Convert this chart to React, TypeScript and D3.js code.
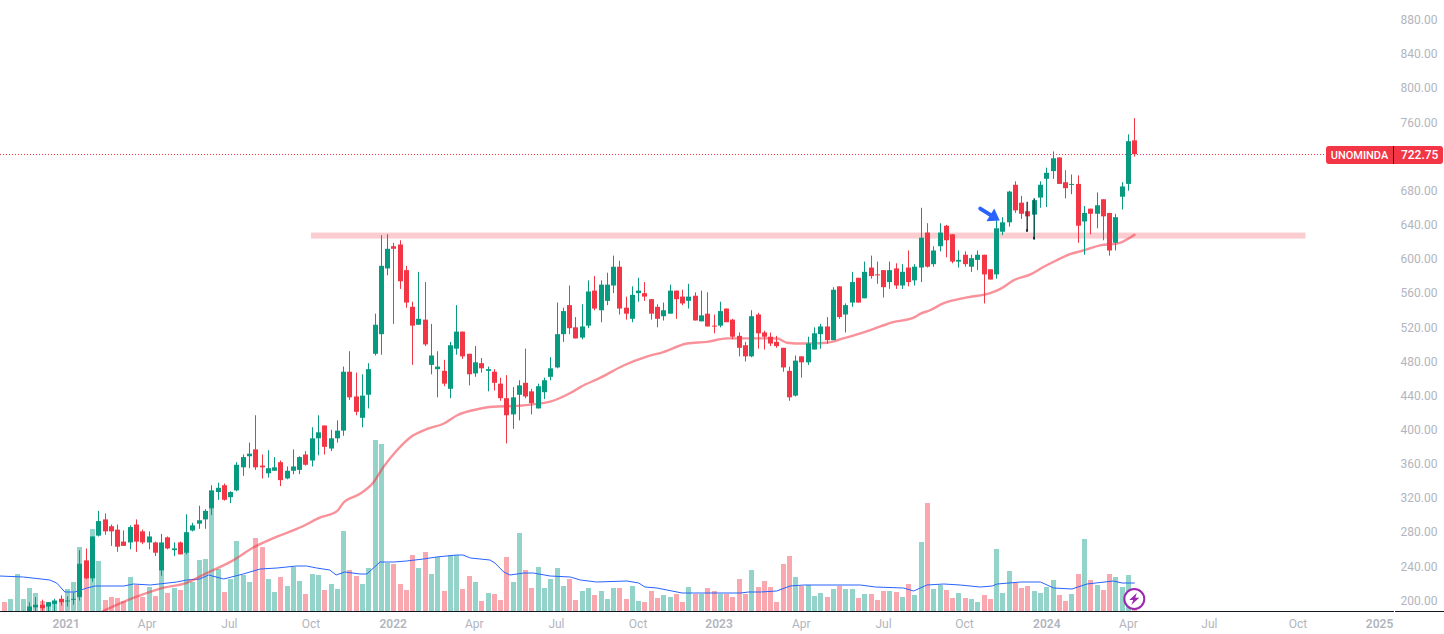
import React from 'react'
import * as d3 from 'd3'

// weekly bars
const opens = [
  180, 176, 176, 178, 187, 192, 195, 193, 196, 202,
  199, 201, 204, 247, 226, 276, 295, 287, 283, 269,
  268, 289, 281, 268, 268, 235, 274, 259, 268, 256,
  282, 290, 295, 308, 327, 335, 321, 329, 356, 369,
  377, 358, 349, 352, 362, 343, 352, 353, 371, 364,
  390, 405, 378, 390, 399, 468, 439, 414, 441, 489,
  512, 589, 615, 617, 587, 544, 523, 529, 476, 471,
  469, 448, 495, 515, 489, 466, 478, 469, 468, 454,
  437, 418, 441, 455, 445, 425, 444, 462, 473, 512,
  546, 520, 508, 522, 563, 540, 551, 569, 591, 543,
  530, 560, 560, 553, 544, 533, 536, 563, 556, 551,
  557, 527, 536, 522, 522, 542, 529, 510, 499, 486,
  535, 514, 509, 503, 496, 469, 440, 486, 479, 494,
  512, 521, 505, 568, 535, 549, 578, 554, 590, 582,
  587, 573, 589, 569, 590, 575, 590, 631, 594, 615,
  639, 629, 597, 605, 591, 599, 605, 588, 582, 632,
  643, 687, 666, 656, 652, 672, 694, 703, 719, 690,
  687, 688, 644, 659, 653, 670, 654, 619, 673, 688, 739,
]
const highs = [
  182, 180, 184, 188, 198, 204, 201, 198, 202, 206,
  205, 209, 259, 261, 275, 305, 302, 289, 289, 282,
  288, 295, 283, 281, 269, 278, 275, 268, 269, 301,
  291, 311, 307, 335, 338, 337, 328, 362, 371, 385,
  417, 371, 376, 368, 364, 357, 377, 369, 375, 403,
  417, 405, 400, 411, 474, 492, 467, 465, 478, 536,
  628, 629, 619, 622, 592, 550, 585, 573, 524, 492,
  482, 503, 546, 515, 489, 498, 484, 474, 471, 461,
  464, 450, 458, 495, 448, 454, 461, 485, 549, 543,
  569, 532, 547, 575, 580, 575, 584, 604, 598, 556,
  568, 578, 573, 553, 547, 549, 570, 563, 564, 571,
  561, 563, 561, 535, 550, 542, 530, 514, 503, 540,
  537, 516, 514, 510, 496, 474, 487, 486, 509, 520,
  524, 532, 567, 568, 548, 585, 578, 597, 604, 597,
  587, 597, 595, 594, 610, 594, 660, 642, 615, 642,
  640, 629, 610, 609, 605, 610, 605, 588, 645, 649,
  680, 691, 674, 667, 671, 691, 707, 726, 719, 704,
  699, 698, 662, 659, 678, 670, 654, 653, 690, 746, 765,
]
const lows = [
  176, 174, 174, 176, 184, 188, 188, 187, 187, 194,
  193, 195, 200, 225, 222, 275, 277, 264, 257, 264,
  260, 257, 266, 260, 252, 229, 260, 252, 254, 254,
  281, 284, 284, 300, 318, 317, 314, 328, 346, 355,
  353, 343, 344, 352, 334, 342, 348, 348, 358, 357,
  370, 371, 375, 385, 393, 435, 417, 403, 425, 487,
  488, 581, 524, 565, 543, 476, 523, 498, 465, 438,
  451, 437, 488, 483, 452, 462, 467, 445, 446, 434,
  384, 401, 411, 437, 418, 425, 436, 458, 472, 503,
  512, 507, 506, 519, 540, 526, 546, 560, 535, 529,
  526, 550, 551, 529, 520, 528, 536, 530, 546, 542,
  528, 527, 521, 513, 520, 526, 506, 486, 480, 485,
  495, 494, 498, 496, 468, 434, 439, 461, 476, 494,
  495, 501, 505, 530, 514, 544, 549, 554, 577, 571,
  555, 565, 565, 565, 568, 569, 573, 590, 591, 609,
  602, 595, 590, 591, 585, 587, 548, 576, 577, 628,
  638, 654, 647, 633, 623, 660, 661, 694, 688, 671,
  676, 619, 605, 629, 636, 622, 604, 610, 658, 680, 720,
]
const closes = [
  178, 179, 182, 184, 193, 195, 191, 198, 200, 198,
  200, 202, 243, 226, 275, 293, 281, 281, 263, 264,
  286, 269, 268, 275, 256, 268, 261, 261, 254, 280,
  288, 294, 305, 329, 332, 318, 327, 359, 368, 372,
  356, 356, 355, 356, 341, 352, 357, 368, 359, 390,
  397, 380, 390, 399, 468, 438, 421, 440, 471, 523,
  592, 612, 612, 574, 549, 522, 530, 500, 487, 474,
  454, 499, 515, 486, 465, 479, 472, 471, 455, 437,
  417, 438, 452, 439, 431, 451, 458, 472, 512, 539,
  519, 507, 521, 562, 542, 570, 570, 591, 542, 536,
  558, 563, 556, 536, 530, 540, 563, 553, 548, 556,
  528, 534, 521, 521, 539, 526, 509, 496, 486, 533,
  513, 509, 501, 498, 473, 438, 481, 479, 501, 513,
  521, 505, 564, 532, 546, 573, 549, 585, 580, 581,
  567, 587, 569, 585, 573, 591, 625, 591, 610, 631,
  622, 597, 599, 594, 601, 605, 582, 576, 636, 643,
  679, 657, 653, 650, 669, 687, 701, 718, 688, 683,
  688, 639, 654, 653, 663, 650, 610, 649, 685, 738, 722.75,
]
const volumes = [
  9, 12, 37, 12, 23, 18, 10, 9, 10, 11,
  22, 29, 64, 41, 82, 50, 11, 14, 13, 10,
  34, 26, 14, 24, 15, 40, 18, 23, 21, 59,
  29, 51, 52, 103, 42, 19, 32, 70, 36, 29,
  73, 64, 32, 19, 34, 25, 44, 30, 17, 37,
  36, 21, 27, 22, 80, 41, 35, 27, 43, 171,
  167, 48, 47, 27, 21, 56, 43, 59, 37, 54,
  20, 56, 56, 22, 35, 29, 10, 18, 17, 11,
  54, 29, 78, 41, 23, 44, 23, 32, 43, 25,
  32, 11, 20, 23, 16, 20, 12, 23, 23, 12,
  25, 10, 9, 20, 13, 16, 14, 17, 9, 24,
  17, 17, 23, 20, 17, 17, 14, 32, 17, 41,
  24, 30, 24, 9, 47, 55, 34, 25, 26, 15,
  18, 14, 22, 25, 22, 22, 13, 17, 17, 11,
  20, 20, 19, 14, 27, 16, 69, 108, 22, 26,
  21, 13, 18, 13, 12, 9, 16, 12, 62, 18,
  40, 28, 23, 25, 20, 18, 24, 31, 16, 10,
  17, 37, 72, 31, 26, 21, 37, 34, 24, 36, 2,
]

// price moving average, bar position / level
const priceMaBars = [
  15.5, 20.5, 24.8, 29.1, 32.2, 36.4, 39.6, 42.8, 47.5, 50.2, 53, 53.9, 56.6, 58.7, 60.3, 62.5, 64.6, 67.3, 69.9,
  72.1, 75.3, 77.8, 81.6, 86.9, 90.1, 91.7, 94.9, 98.5, 102.4, 104.9, 108.7, 111.9, 115.1, 123, 124.6, 127.2, 131,
  133.6, 136.3, 139.5, 141.5, 144.7, 145.9, 147.4, 149.5, 153.3, 157, 158.6, 160.7, 163.4, 165.3, 167.4, 169.8,
  171.8, 174.5, 177.2, 180.1,
]
const priceMaValues = [
  187, 203, 214, 221, 232, 247, 262, 273, 287, 297, 305, 314, 325, 338, 356, 376, 391, 401, 407,
  417, 424, 427, 428, 433, 443, 450, 461, 475, 486, 491, 501, 503, 507, 507, 502, 501, 502,
  507, 513, 521, 526, 531, 536, 540, 548, 555, 560, 565, 575, 582, 590, 598, 606,
  610, 616, 618, 629,
]

// volume moving average, bar position / level (first point sits at the left edge of the pane)
const volumeMaBars = [
  -0.8, 3, 7.2, 8.3, 9.6, 11.2, 13.1, 14.4, 19, 20.5, 23.2, 27.4, 29, 31.1, 32.5, 34.9, 38, 40.7, 43.4, 46.5, 48.1,
  49.7, 51.8, 52.8, 54.2, 56.6, 57.7, 59.8, 62, 64, 66.7, 68.8, 72, 73, 74.2, 77.3, 78.1, 79.5, 80.5, 82.7, 84.2,
  86.9, 90.1, 91.7, 94.3, 99.1, 101, 102, 103.9, 107.9, 109.7, 117.2, 118.5, 120.4, 123, 125.1, 127.3, 132.6, 136.3,
  138.7, 143.2, 144.8, 146.9, 149.6, 152.2, 155.4, 157.3, 158.1, 161.8, 165, 167.1, 170, 172.4, 176.6, 178, 180,
]
const volumeMaValues = [
  35, 34, 31, 28, 19, 19, 23, 25, 25, 27, 26, 29, 31, 32, 36, 32, 37, 42, 43, 45, 45,
  43, 41, 36, 39, 37, 37, 49, 49, 50, 52, 54, 56, 56, 53, 51, 48, 39, 36, 38, 38,
  35, 34, 31, 29, 30, 28, 24, 23, 18, 18, 18, 19, 19, 20, 25, 26, 26, 26,
  24, 23, 20, 26, 27, 26, 24, 25, 27, 29, 29, 23, 22, 27, 30, 28, 28,
]

const priceTicks = [880, 840, 800, 760, 680, 640, 600, 560, 520, 480, 440, 400, 360, 320, 280, 240, 200]
const timeLabels = ['2021', 'Apr', 'Jul', 'Oct', '2022', 'Apr', 'Jul', 'Oct', '2023', 'Apr', 'Jul', 'Oct', '2024', 'Apr', 'Jul', 'Oct', '2025']
const timeLabelBars = [9.8, 22.7, 35.8, 48.8, 61.9, 74.8, 87.9, 100.9, 113.8, 126.9, 140, 152.9, 166, 179, 191.9, 206, 219]

const symbol = 'UNOMINDA'
const lastPrice = 722.75

const WIDTH = 1444
const HEIGHT = 634
const PLOT_RIGHT = 1394
const BASELINE = 611
const FONT = 'Roboto, sans-serif'

const RED = '#F23645'
const GREEN = '#089981'

const xScale = d3.scaleLinear().domain([0, 180]).range([4.6, 1134.7])
const yScale = d3.scaleLinear().domain([200, 880]).range([600.5, 20])
const volScale = d3.scaleLinear().domain([0, 171]).range([BASELINE, BASELINE - 171])

const snap = (i: number) => Math.floor(xScale(i))

const priceMaPath = d3.line<number>()
  .x((d, i) => xScale(priceMaBars[i]))
  .y(d => yScale(d))
  .curve(d3.curveMonotoneX)(priceMaValues)

const volumeMaPath = d3.line<number>()
  .x((d, i) => xScale(volumeMaBars[i]))
  .y(d => volScale(d))(volumeMaValues)

function Arrow() {
  // hand drawn arrow on the chart, tail and tip given in bar / price
  const x1 = xScale(155.4), y1 = yScale(659)
  const x2 = xScale(158.5), y2 = yScale(645)
  const a = Math.atan2(y2 - y1, x2 - x1)
  const head = 11
  const wing = 7.5
  const bx = x2 - head * Math.cos(a)
  const by = y2 - head * Math.sin(a)
  const nx = -Math.sin(a), ny = Math.cos(a)
  return (
    <g>
      <line x1={x1} y1={y1} x2={bx} y2={by} stroke="#2962FF" strokeWidth={4} strokeLinecap="round" />
      <polygon
        points={`${x2},${y2} ${bx + nx * wing},${by + ny * wing} ${bx - nx * wing},${by - ny * wing}`}
        fill="#2962FF"
      />
    </g>
  )
}

export default function App() {
  const lastY = Math.floor(yScale(lastPrice)) + 0.5
  return (
    <svg
      width={WIDTH}
      height={HEIGHT}
      style={{ position: 'absolute', left: 0, top: 0, background: '#fff', fontFamily: FONT }}
    >
      <defs>
        <clipPath id="plot">
          <rect x={0} y={0} width={PLOT_RIGHT} height={BASELINE} />
        </clipPath>
      </defs>

      <g clipPath="url(#plot)">
        {/* volume */}
        {volumes.map((v, i) => (
          <rect
            key={i}
            x={snap(i) - 2}
            y={volScale(v)}
            width={5}
            height={BASELINE - volScale(v)}
            fill={closes[i] < opens[i] ? RED : GREEN}
            opacity={0.43}
          />
        ))}
        <path d={volumeMaPath!} fill="none" stroke="#2962FF" strokeWidth={1} />

        {/* resistance band */}
        <rect
          x={xScale(48.8)}
          y={yScale(631)}
          width={xScale(207.2) - xScale(48.8)}
          height={yScale(624) - yScale(631)}
          fill={RED}
          opacity={0.25}
        />

        <path d={priceMaPath!} fill="none" stroke={RED} strokeOpacity={0.55} strokeWidth={2.4} />

        <line x1={0} x2={1326} y1={lastY} y2={lastY} stroke={RED} strokeWidth={1} strokeDasharray="1 2" />

        {/* candles */}
        {closes.map((c, i) => {
          const o = opens[i]
          const color = c < o ? RED : GREEN
          const top = yScale(Math.max(o, c))
          const bottom = yScale(Math.min(o, c))
          return (
            <g key={i} fill={color}>
              <rect x={snap(i)} y={yScale(highs[i])} width={1} height={yScale(lows[i]) - yScale(highs[i])} />
              <rect x={snap(i) - 2} y={top} width={5} height={Math.max(1, bottom - top)} />
            </g>
          )
        })}

        {/* two grey strokes drawn over the wicks */}
        {[[163, 667, 632], [164, 671, 623]].map(([bar, hi, lo]) => (
          <g key={bar}>
            <rect x={snap(bar) - 1} y={yScale(hi)} width={2} height={yScale(lo) - yScale(hi)} fill="#131722" opacity={0.45} />
            <rect x={snap(bar) - 1} y={yScale(lo + 3)} width={2} height={yScale(lo) - yScale(lo + 3)} fill="#131722" opacity={0.8} />
          </g>
        ))}

        <Arrow />
      </g>

      {/* lightning badge */}
      <g transform={`translate(${xScale(180) - 0.4},599)`}>
        <circle r={10} fill="#fff" stroke="#9C27B0" strokeWidth={2} />
        <polygon points="2.5,-6 -5,1 -1,1 -3,6 5,-1.2 1,-1.2" fill="#9C27B0" />
      </g>

      {/* bottom axis line, with the small gap before the price scale */}
      <line x1={0} x2={PLOT_RIGHT} y1={BASELINE + 0.5} y2={BASELINE + 0.5} stroke="#131722" />
      <line x1={PLOT_RIGHT + 1} x2={WIDTH} y1={BASELINE + 0.5} y2={BASELINE + 0.5} stroke="#131722" />

      {priceTicks.map(t => (
        <text key={t} x={1437.5} y={yScale(t)} dy="0.35em" textAnchor="end" fontSize={12} fill="#B2B5BE">
          {d3.format('.2f')(t)}
        </text>
      ))}

      {timeLabels.map((l, i) => {
        const isYear = /^\d/.test(l)
        return (
          <text
            key={i}
            x={xScale(timeLabelBars[i])}
            y={628}
            textAnchor="middle"
            fontSize={12}
            fontWeight={isYear ? 600 : 400}
            fill="#B2B5BE"
          >
            {l}
          </text>
        )
      })}

      {/* last price tag */}
      <rect x={1326} y={146} width={117} height={18} rx={3} fill={RED} />
      <rect x={1393} y={146} width={1} height={18} fill="#131722" />
      <text x={1359.5} y={155} dy="0.35em" textAnchor="middle" fontSize={11} fontWeight={500} fill="#fff">{symbol}</text>
      <text x={1419.7} y={155} dy="0.35em" textAnchor="middle" fontSize={12} fontWeight={500} fill="#fff">{d3.format('.2f')(lastPrice)}</text>
    </svg>
  )
}
